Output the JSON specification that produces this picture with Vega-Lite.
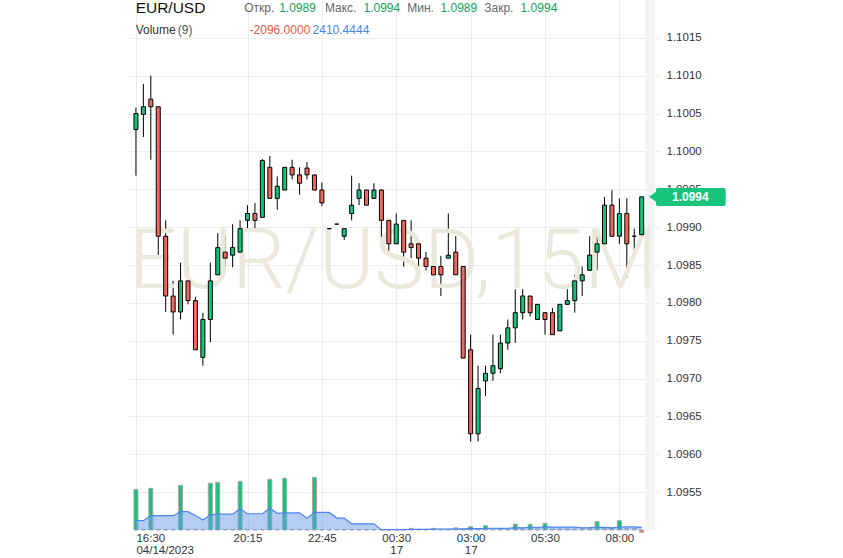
{
  "$schema": "https://vega.github.io/schema/vega-lite/v6.json",
  "width": 532,
  "height": 530,
  "autosize": "none",
  "padding": {"left": 128, "top": 0, "right": 183, "bottom": 28},
  "background": "white",
  "config": {"view": {"stroke": null}, "text": {"font": "Liberation Sans"}},
  "datasets": {
    "candles": [
      {"i":0,"t":"16:30","o":1.10029,"h":1.10058,"l":1.09968,"c":1.10050,"v":36600,"ma":8400},
      {"i":1,"t":"16:45","o":1.10049,"h":1.10089,"l":1.10019,"c":1.10059,"v":500,"ma":8400},
      {"i":2,"t":"17:00","o":1.10069,"h":1.10100,"l":1.09989,"c":1.10059,"v":37500,"ma":12900},
      {"i":3,"t":"17:15","o":1.10059,"h":1.10059,"l":1.09859,"c":1.09888,"v":500,"ma":12900},
      {"i":4,"t":"17:30","o":1.09888,"h":1.09909,"l":1.09788,"c":1.09809,"v":500,"ma":12900},
      {"i":5,"t":"17:45","o":1.09809,"h":1.09829,"l":1.09758,"c":1.09788,"v":500,"ma":12900},
      {"i":6,"t":"18:00","o":1.09788,"h":1.09853,"l":1.09778,"c":1.09829,"v":40200,"ma":16500},
      {"i":7,"t":"18:15","o":1.09829,"h":1.09847,"l":1.09798,"c":1.09803,"v":500,"ma":16500},
      {"i":8,"t":"18:30","o":1.09803,"h":1.09808,"l":1.09738,"c":1.09738,"v":500,"ma":13033},
      {"i":9,"t":"18:45","o":1.09728,"h":1.09787,"l":1.09717,"c":1.09778,"v":500,"ma":9022},
      {"i":10,"t":"19:00","o":1.09778,"h":1.09853,"l":1.09748,"c":1.09829,"v":42000,"ma":13633},
      {"i":11,"t":"19:15","o":1.09837,"h":1.09892,"l":1.09837,"c":1.09873,"v":42900,"ma":14233},
      {"i":12,"t":"19:30","o":1.09867,"h":1.09888,"l":1.09847,"c":1.09859,"v":500,"ma":14233},
      {"i":13,"t":"19:45","o":1.09863,"h":1.09904,"l":1.09847,"c":1.09873,"v":500,"ma":14233},
      {"i":14,"t":"20:00","o":1.09867,"h":1.09909,"l":1.09867,"c":1.09898,"v":43800,"ma":19044},
      {"i":15,"t":"20:15","o":1.09909,"h":1.09929,"l":1.09898,"c":1.09918,"v":500,"ma":14633},
      {"i":16,"t":"20:30","o":1.09918,"h":1.09932,"l":1.09898,"c":1.09909,"v":500,"ma":14633},
      {"i":17,"t":"20:45","o":1.09913,"h":1.09990,"l":1.09913,"c":1.09988,"v":500,"ma":14633},
      {"i":18,"t":"21:00","o":1.09979,"h":1.09994,"l":1.09938,"c":1.09938,"v":45600,"ma":19644},
      {"i":19,"t":"21:15","o":1.09938,"h":1.09967,"l":1.09923,"c":1.09954,"v":500,"ma":15033},
      {"i":20,"t":"21:30","o":1.09949,"h":1.09979,"l":1.09949,"c":1.09979,"v":46500,"ma":15433},
      {"i":21,"t":"21:45","o":1.09979,"h":1.09989,"l":1.09963,"c":1.09969,"v":500,"ma":15433},
      {"i":22,"t":"22:00","o":1.09969,"h":1.09979,"l":1.09943,"c":1.09958,"v":500,"ma":15433},
      {"i":23,"t":"22:15","o":1.09978,"h":1.09986,"l":1.09963,"c":1.09969,"v":500,"ma":10622},
      {"i":24,"t":"22:30","o":1.09969,"h":1.09969,"l":1.09949,"c":1.09949,"v":47400,"ma":15833},
      {"i":25,"t":"22:45","o":1.09949,"h":1.09959,"l":1.09928,"c":1.09932,"v":300,"ma":15811},
      {"i":26,"t":"23:00","o":1.09898,"h":1.09898,"l":1.09898,"c":1.09898,"v":300,"ma":15789},
      {"i":27,"t":"23:15","o":1.09904,"h":1.09904,"l":1.09904,"c":1.09904,"v":300,"ma":10756},
      {"i":28,"t":"23:30","o":1.09888,"h":1.09898,"l":1.09883,"c":1.09898,"v":300,"ma":10733},
      {"i":29,"t":"23:45","o":1.09918,"h":1.09968,"l":1.09909,"c":1.09929,"v":300,"ma":5600},
      {"i":30,"t":"23:15","o":1.09938,"h":1.09958,"l":1.09929,"c":1.09949,"v":300,"ma":5578},
      {"i":31,"t":"23:30","o":1.09949,"h":1.09949,"l":1.09929,"c":1.09929,"v":300,"ma":5556},
      {"i":32,"t":"23:45","o":1.09938,"h":1.09958,"l":1.09938,"c":1.09949,"v":300,"ma":5533},
      {"i":33,"t":"00:00","o":1.09949,"h":1.09950,"l":1.09878,"c":1.09909,"v":300,"ma":300},
      {"i":34,"t":"00:15","o":1.09909,"h":1.09909,"l":1.09868,"c":1.09878,"v":300,"ma":300},
      {"i":35,"t":"00:30","o":1.09878,"h":1.09918,"l":1.09878,"c":1.09904,"v":600,"ma":333},
      {"i":36,"t":"00:45","o":1.09909,"h":1.09909,"l":1.09848,"c":1.09867,"v":600,"ma":367},
      {"i":37,"t":"01:00","o":1.09878,"h":1.09909,"l":1.09859,"c":1.09873,"v":1500,"ma":500},
      {"i":38,"t":"01:15","o":1.09878,"h":1.09878,"l":1.09837,"c":1.09859,"v":600,"ma":533},
      {"i":39,"t":"01:30","o":1.09859,"h":1.09867,"l":1.09843,"c":1.09848,"v":600,"ma":567},
      {"i":40,"t":"01:45","o":1.09848,"h":1.09862,"l":1.09827,"c":1.09837,"v":1500,"ma":700},
      {"i":41,"t":"02:00","o":1.09848,"h":1.09862,"l":1.09809,"c":1.09837,"v":600,"ma":733},
      {"i":42,"t":"02:15","o":1.09859,"h":1.09918,"l":1.09859,"c":1.09863,"v":600,"ma":767},
      {"i":43,"t":"02:30","o":1.09867,"h":1.09888,"l":1.09837,"c":1.09837,"v":2000,"ma":956},
      {"i":44,"t":"02:45","o":1.09848,"h":1.09848,"l":1.09727,"c":1.09727,"v":800,"ma":978},
      {"i":45,"t":"03:00","o":1.09738,"h":1.09758,"l":1.09617,"c":1.09627,"v":3000,"ma":1244},
      {"i":46,"t":"03:15","o":1.09627,"h":1.09717,"l":1.09617,"c":1.09687,"v":900,"ma":1178},
      {"i":47,"t":"03:30","o":1.09697,"h":1.09717,"l":1.09677,"c":1.09707,"v":3900,"ma":1544},
      {"i":48,"t":"03:45","o":1.09707,"h":1.09758,"l":1.09697,"c":1.09717,"v":1000,"ma":1589},
      {"i":49,"t":"04:00","o":1.09713,"h":1.09758,"l":1.09707,"c":1.09747,"v":1000,"ma":1533},
      {"i":50,"t":"04:15","o":1.09747,"h":1.09778,"l":1.09738,"c":1.09767,"v":1000,"ma":1578},
      {"i":51,"t":"04:30","o":1.09767,"h":1.09818,"l":1.09747,"c":1.09787,"v":5400,"ma":2111},
      {"i":52,"t":"04:45","o":1.09787,"h":1.09818,"l":1.09778,"c":1.09809,"v":1000,"ma":2000},
      {"i":53,"t":"05:00","o":1.09809,"h":1.09809,"l":1.09782,"c":1.09787,"v":5100,"ma":2478},
      {"i":54,"t":"05:15","o":1.09778,"h":1.09798,"l":1.09778,"c":1.09798,"v":1000,"ma":2256},
      {"i":55,"t":"05:30","o":1.09787,"h":1.09787,"l":1.09758,"c":1.09778,"v":6000,"ma":2822},
      {"i":56,"t":"05:45","o":1.09787,"h":1.09793,"l":1.09758,"c":1.09758,"v":1000,"ma":2500},
      {"i":57,"t":"06:00","o":1.09763,"h":1.09798,"l":1.09763,"c":1.09798,"v":1000,"ma":2500},
      {"i":58,"t":"06:15","o":1.09798,"h":1.09818,"l":1.09798,"c":1.09803,"v":1000,"ma":2500},
      {"i":59,"t":"06:30","o":1.09803,"h":1.09837,"l":1.09787,"c":1.09829,"v":1000,"ma":2500},
      {"i":60,"t":"06:45","o":1.09829,"h":1.09848,"l":1.09809,"c":1.09837,"v":1300,"ma":2044},
      {"i":61,"t":"07:00","o":1.09843,"h":1.09888,"l":1.09843,"c":1.09863,"v":1300,"ma":2078},
      {"i":62,"t":"07:15","o":1.09867,"h":1.09888,"l":1.09843,"c":1.09878,"v":7500,"ma":2344},
      {"i":63,"t":"07:30","o":1.09878,"h":1.09940,"l":1.09868,"c":1.09929,"v":1500,"ma":2400},
      {"i":64,"t":"07:45","o":1.09929,"h":1.09949,"l":1.09888,"c":1.09888,"v":1500,"ma":1900},
      {"i":65,"t":"08:00","o":1.09888,"h":1.09938,"l":1.09878,"c":1.09918,"v":8400,"ma":2722},
      {"i":66,"t":"08:15","o":1.09918,"h":1.09938,"l":1.09833,"c":1.09878,"v":1300,"ma":2756},
      {"i":67,"t":"08:30","o":1.09888,"h":1.09898,"l":1.09859,"c":1.09888,"v":1300,"ma":2789},
      {"i":68,"t":"08:45","o":1.0989,"h":1.0994,"l":1.0989,"c":1.0994,"v":-2096,"ma":2410.4444}
    ]
  },
  "layer": [
    {
      "data": {"name": "candles"},
      "layer": [
        {
          "mark": {"type": "bar", "width": 4, "stroke": "#a8a8a8", "strokeWidth": 1},
          "encoding": {
            "x": {"field": "i", "type": "quantitative", "scale": {"domain": [-0.396, 69.79], "nice": false, "zero": false},
              "axis": {"values": [0, 15, 25, 35, 45, 55, 65], "labelExpr": "datum.value == 0 ? ['16:30', '04/14/2023'] : datum.value == 15 ? '20:15' : datum.value == 25 ? '22:45' : datum.value == 35 ? ['00:30', '17'] : datum.value == 45 ? ['03:00', '17'] : datum.value == 55 ? '05:30' : '08:00'", "labelAlign": {"condition": {"test": "datum.value == 0", "value": "left"}, "value": "center"}, "title": null, "grid": true, "gridColor": "#ededed", "domain": false, "ticks": false, "labelFont": "Liberation Sans", "labelFontSize": 11.5, "labelColor": "#333333", "labelLineHeight": 12, "labelPadding": 2, "labelBaseline": "top"}},
            "y": {"field": "v", "type": "quantitative", "scale": {"domain": [0, 477000], "nice": false}, "axis": null},
            "color": {
              "condition": [
                {"test": "datum.v < 0", "value": "#f4675a"},
                {"test": "datum.v >= 2900", "value": "#13c37a"}
              ],
              "value": "#d4d4d4"
            }
          }
        },
        {
          "mark": {"type": "area", "color": "#6b9bec", "fillOpacity": 0.5, "line": {"color": "#4d86ea", "strokeWidth": 1.2}},
          "encoding": {
            "x": {"field": "i", "type": "quantitative", "scale": {"domain": [-0.396, 69.79], "nice": false, "zero": false},
              "axis": {"values": [0, 15, 25, 35, 45, 55, 65], "labelExpr": "datum.value == 0 ? ['16:30', '04/14/2023'] : datum.value == 15 ? '20:15' : datum.value == 25 ? '22:45' : datum.value == 35 ? ['00:30', '17'] : datum.value == 45 ? ['03:00', '17'] : datum.value == 55 ? '05:30' : '08:00'", "labelAlign": {"condition": {"test": "datum.value == 0", "value": "left"}, "value": "center"}, "title": null, "grid": true, "gridColor": "#ededed", "domain": false, "ticks": false, "labelFont": "Liberation Sans", "labelFontSize": 11.5, "labelColor": "#333333", "labelLineHeight": 12, "labelPadding": 2, "labelBaseline": "top"}},
            "y": {"field": "ma", "type": "quantitative", "scale": {"domain": [0, 477000], "nice": false}, "axis": null}
          }
        }
      ]
    },
    {
      "layer": [
        {
          "data": {"name": "candles"},
          "mark": {"type": "rule", "color": "#000000", "strokeWidth": 1},
          "encoding": {
            "x": {"field": "i", "type": "quantitative", "scale": {"domain": [-0.396, 69.79], "nice": false, "zero": false},
              "axis": {"values": [0, 15, 25, 35, 45, 55, 65], "labelExpr": "datum.value == 0 ? ['16:30', '04/14/2023'] : datum.value == 15 ? '20:15' : datum.value == 25 ? '22:45' : datum.value == 35 ? ['00:30', '17'] : datum.value == 45 ? ['03:00', '17'] : datum.value == 55 ? '05:30' : '08:00'", "labelAlign": {"condition": {"test": "datum.value == 0", "value": "left"}, "value": "center"}, "title": null, "grid": true, "gridColor": "#ededed", "domain": false, "ticks": false, "labelFont": "Liberation Sans", "labelFontSize": 11.5, "labelColor": "#333333", "labelLineHeight": 12, "labelPadding": 2, "labelBaseline": "top"}},
            "y": {"field": "l", "type": "quantitative", "scale": {"domain": [1.095, 1.102], "nice": false, "zero": false},
              "axis": {"orient": "right", "values": [1.0955, 1.096, 1.0965, 1.097, 1.0975, 1.098, 1.0985, 1.099, 1.0995, 1.1, 1.1005, 1.101, 1.1015], "format": ".4f", "title": null, "grid": true, "gridColor": "#ededed", "domain": false, "ticks": false, "labelFont": "Liberation Sans", "labelFontSize": 11.5, "labelColor": "#333333", "labelPadding": 6}},
            "y2": {"field": "h"}
          }
        },
        {
          "data": {"values": [{}]},
          "mark": {"type": "rect", "color": "#f3f3f3"},
          "encoding": {
            "x": {"datum": 68.5, "type": "quantitative", "scale": {"domain": [-0.396, 69.79], "nice": false, "zero": false},
              "axis": {"values": [0, 15, 25, 35, 45, 55, 65], "labelExpr": "datum.value == 0 ? ['16:30', '04/14/2023'] : datum.value == 15 ? '20:15' : datum.value == 25 ? '22:45' : datum.value == 35 ? ['00:30', '17'] : datum.value == 45 ? ['03:00', '17'] : datum.value == 55 ? '05:30' : '08:00'", "labelAlign": {"condition": {"test": "datum.value == 0", "value": "left"}, "value": "center"}, "title": null, "grid": true, "gridColor": "#ededed", "domain": false, "ticks": false, "labelFont": "Liberation Sans", "labelFontSize": 11.5, "labelColor": "#333333", "labelLineHeight": 12, "labelPadding": 2, "labelBaseline": "top"}},
            "x2": {"datum": 69.79}
          }
        },
        {
          "data": {"values": [{}]},
          "mark": {"type": "text", "text": "EUR/USD,15M", "font": "Roboto", "fontWeight": 300, "fontSize": 84, "align": "center", "baseline": "alphabetic", "color": "#ebe8dc"},
          "encoding": {
            "x": {"datum": 34.56, "type": "quantitative", "scale": {"domain": [-0.396, 69.79], "nice": false, "zero": false},
              "axis": {"values": [0, 15, 25, 35, 45, 55, 65], "labelExpr": "datum.value == 0 ? ['16:30', '04/14/2023'] : datum.value == 15 ? '20:15' : datum.value == 25 ? '22:45' : datum.value == 35 ? ['00:30', '17'] : datum.value == 45 ? ['03:00', '17'] : datum.value == 55 ? '05:30' : '08:00'", "labelAlign": {"condition": {"test": "datum.value == 0", "value": "left"}, "value": "center"}, "title": null, "grid": true, "gridColor": "#ededed", "domain": false, "ticks": false, "labelFont": "Liberation Sans", "labelFontSize": 11.5, "labelColor": "#333333", "labelLineHeight": 12, "labelPadding": 2, "labelBaseline": "top"}},
            "y": {"datum": 1.098196, "type": "quantitative", "scale": {"domain": [1.095, 1.102], "nice": false, "zero": false},
              "axis": {"orient": "right", "values": [1.0955, 1.096, 1.0965, 1.097, 1.0975, 1.098, 1.0985, 1.099, 1.0995, 1.1, 1.1005, 1.101, 1.1015], "format": ".4f", "title": null, "grid": true, "gridColor": "#ededed", "domain": false, "ticks": false, "labelFont": "Liberation Sans", "labelFontSize": 11.5, "labelColor": "#333333", "labelPadding": 6}}
          }
        },
        {
          "data": {"name": "candles"},
          "mark": {"type": "bar", "width": 4, "stroke": "#000000", "strokeWidth": 1},
          "encoding": {
            "x": {"field": "i", "type": "quantitative", "scale": {"domain": [-0.396, 69.79], "nice": false, "zero": false},
              "axis": {"values": [0, 15, 25, 35, 45, 55, 65], "labelExpr": "datum.value == 0 ? ['16:30', '04/14/2023'] : datum.value == 15 ? '20:15' : datum.value == 25 ? '22:45' : datum.value == 35 ? ['00:30', '17'] : datum.value == 45 ? ['03:00', '17'] : datum.value == 55 ? '05:30' : '08:00'", "labelAlign": {"condition": {"test": "datum.value == 0", "value": "left"}, "value": "center"}, "title": null, "grid": true, "gridColor": "#ededed", "domain": false, "ticks": false, "labelFont": "Liberation Sans", "labelFontSize": 11.5, "labelColor": "#333333", "labelLineHeight": 12, "labelPadding": 2, "labelBaseline": "top"}},
            "y": {"field": "o", "type": "quantitative", "scale": {"domain": [1.095, 1.102], "nice": false, "zero": false},
              "axis": {"orient": "right", "values": [1.0955, 1.096, 1.0965, 1.097, 1.0975, 1.098, 1.0985, 1.099, 1.0995, 1.1, 1.1005, 1.101, 1.1015], "format": ".4f", "title": null, "grid": true, "gridColor": "#ededed", "domain": false, "ticks": false, "labelFont": "Liberation Sans", "labelFontSize": 11.5, "labelColor": "#333333", "labelPadding": 6}},
            "y2": {"field": "c"},
            "color": {"condition": {"test": "datum.c >= datum.o", "value": "#13c37a"}, "value": "#f4675a"}
          }
        },
        {
          "data": {"values": [
            {"txt": "EUR/USD", "k": "title", "px": -0.04, "py": 1.101894},
            {"txt": "Откр.", "k": "label", "px": 14.56, "py": 1.101894},
            {"txt": "1.0989", "k": "value", "px": 19.26, "py": 1.101894},
            {"txt": "Макс.", "k": "label", "px": 25.41, "py": 1.101894},
            {"txt": "1.0994", "k": "value", "px": 30.59, "py": 1.101894},
            {"txt": "Мин.", "k": "label", "px": 36.48, "py": 1.101894},
            {"txt": "1.0989", "k": "value", "px": 40.95, "py": 1.101894},
            {"txt": "Закр.", "k": "label", "px": 46.83, "py": 1.101894},
            {"txt": "1.0994", "k": "value", "px": 51.72, "py": 1.101894},
            {"txt": "Volume", "k": "name", "px": -0.04, "py": 1.101604},
            {"txt": "(9)", "k": "param", "px": 5.62, "py": 1.101604},
            {"txt": "-2096.0000", "k": "neg", "px": 15.28, "py": 1.101604},
            {"txt": "2410.4444", "k": "ma", "px": 23.75, "py": 1.101604}
          ]},
          "mark": {"type": "text", "align": "left", "baseline": "middle"},
          "encoding": {
            "x": {"field": "px", "type": "quantitative", "scale": {"domain": [-0.396, 69.79], "nice": false, "zero": false},
              "axis": {"values": [0, 15, 25, 35, 45, 55, 65], "labelExpr": "datum.value == 0 ? ['16:30', '04/14/2023'] : datum.value == 15 ? '20:15' : datum.value == 25 ? '22:45' : datum.value == 35 ? ['00:30', '17'] : datum.value == 45 ? ['03:00', '17'] : datum.value == 55 ? '05:30' : '08:00'", "labelAlign": {"condition": {"test": "datum.value == 0", "value": "left"}, "value": "center"}, "title": null, "grid": true, "gridColor": "#ededed", "domain": false, "ticks": false, "labelFont": "Liberation Sans", "labelFontSize": 11.5, "labelColor": "#333333", "labelLineHeight": 12, "labelPadding": 2, "labelBaseline": "top"}},
            "y": {"field": "py", "type": "quantitative", "scale": {"domain": [1.095, 1.102], "nice": false, "zero": false},
              "axis": {"orient": "right", "values": [1.0955, 1.096, 1.0965, 1.097, 1.0975, 1.098, 1.0985, 1.099, 1.0995, 1.1, 1.1005, 1.101, 1.1015], "format": ".4f", "title": null, "grid": true, "gridColor": "#ededed", "domain": false, "ticks": false, "labelFont": "Liberation Sans", "labelFontSize": 11.5, "labelColor": "#333333", "labelPadding": 6}},
            "text": {"field": "txt"},
            "color": {"field": "k", "type": "nominal", "scale": {"domain": ["title", "label", "value", "name", "param", "neg", "ma"], "range": ["#111111", "#666666", "#14a25c", "#333333", "#555555", "#e5574a", "#4a86e8"]}, "legend": null},
            "size": {"condition": {"test": "datum.k == 'title'", "value": 15.5}, "value": 12},
            "fontWeight": {"condition": {"test": "datum.k == 'title'", "value": "bold"}, "value": "normal"},
            "fontStyle": {"condition": {"test": "datum.k == 'param'", "value": "italic"}, "value": "normal"}
          }
        },
        {
          "data": {"values": [{}]},
          "mark": {"type": "point", "shape": "M1,-1L-0.4,0L1,1Z", "filled": true, "opacity": 1, "color": "#16c47c", "size": 324},
          "encoding": {
            "x": {"datum": 69.47, "type": "quantitative", "scale": {"domain": [-0.396, 69.79], "nice": false, "zero": false},
              "axis": {"values": [0, 15, 25, 35, 45, 55, 65], "labelExpr": "datum.value == 0 ? ['16:30', '04/14/2023'] : datum.value == 15 ? '20:15' : datum.value == 25 ? '22:45' : datum.value == 35 ? ['00:30', '17'] : datum.value == 45 ? ['03:00', '17'] : datum.value == 55 ? '05:30' : '08:00'", "labelAlign": {"condition": {"test": "datum.value == 0", "value": "left"}, "value": "center"}, "title": null, "grid": true, "gridColor": "#ededed", "domain": false, "ticks": false, "labelFont": "Liberation Sans", "labelFontSize": 11.5, "labelColor": "#333333", "labelLineHeight": 12, "labelPadding": 2, "labelBaseline": "top"}},
            "y": {"datum": 1.0994, "type": "quantitative", "scale": {"domain": [1.095, 1.102], "nice": false, "zero": false},
              "axis": {"orient": "right", "values": [1.0955, 1.096, 1.0965, 1.097, 1.0975, 1.098, 1.0985, 1.099, 1.0995, 1.1, 1.1005, 1.101, 1.1015], "format": ".4f", "title": null, "grid": true, "gridColor": "#ededed", "domain": false, "ticks": false, "labelFont": "Liberation Sans", "labelFontSize": 11.5, "labelColor": "#333333", "labelPadding": 6}}
          }
        },
        {
          "data": {"values": [{}]},
          "mark": {"type": "rect", "color": "#16c47c", "cornerRadius": 2},
          "encoding": {
            "x": {"datum": 69.92, "type": "quantitative", "scale": {"domain": [-0.396, 69.79], "nice": false, "zero": false},
              "axis": {"values": [0, 15, 25, 35, 45, 55, 65], "labelExpr": "datum.value == 0 ? ['16:30', '04/14/2023'] : datum.value == 15 ? '20:15' : datum.value == 25 ? '22:45' : datum.value == 35 ? ['00:30', '17'] : datum.value == 45 ? ['03:00', '17'] : datum.value == 55 ? '05:30' : '08:00'", "labelAlign": {"condition": {"test": "datum.value == 0", "value": "left"}, "value": "center"}, "title": null, "grid": true, "gridColor": "#ededed", "domain": false, "ticks": false, "labelFont": "Liberation Sans", "labelFontSize": 11.5, "labelColor": "#333333", "labelLineHeight": 12, "labelPadding": 2, "labelBaseline": "top"}},
            "x2": {"datum": 79.29},
            "y": {"datum": 1.099517, "type": "quantitative", "scale": {"domain": [1.095, 1.102], "nice": false, "zero": false},
              "axis": {"orient": "right", "values": [1.0955, 1.096, 1.0965, 1.097, 1.0975, 1.098, 1.0985, 1.099, 1.0995, 1.1, 1.1005, 1.101, 1.1015], "format": ".4f", "title": null, "grid": true, "gridColor": "#ededed", "domain": false, "ticks": false, "labelFont": "Liberation Sans", "labelFontSize": 11.5, "labelColor": "#333333", "labelPadding": 6}},
            "y2": {"datum": 1.099279}
          }
        },
        {
          "data": {"values": [{}]},
          "mark": {"type": "text", "text": "1.0994", "fontSize": 12, "fontWeight": "bold", "align": "center", "baseline": "middle", "color": "#ffffff"},
          "encoding": {
            "x": {"datum": 74.54, "type": "quantitative", "scale": {"domain": [-0.396, 69.79], "nice": false, "zero": false},
              "axis": {"values": [0, 15, 25, 35, 45, 55, 65], "labelExpr": "datum.value == 0 ? ['16:30', '04/14/2023'] : datum.value == 15 ? '20:15' : datum.value == 25 ? '22:45' : datum.value == 35 ? ['00:30', '17'] : datum.value == 45 ? ['03:00', '17'] : datum.value == 55 ? '05:30' : '08:00'", "labelAlign": {"condition": {"test": "datum.value == 0", "value": "left"}, "value": "center"}, "title": null, "grid": true, "gridColor": "#ededed", "domain": false, "ticks": false, "labelFont": "Liberation Sans", "labelFontSize": 11.5, "labelColor": "#333333", "labelLineHeight": 12, "labelPadding": 2, "labelBaseline": "top"}},
            "y": {"datum": 1.0994, "type": "quantitative", "scale": {"domain": [1.095, 1.102], "nice": false, "zero": false},
              "axis": {"orient": "right", "values": [1.0955, 1.096, 1.0965, 1.097, 1.0975, 1.098, 1.0985, 1.099, 1.0995, 1.1, 1.1005, 1.101, 1.1015], "format": ".4f", "title": null, "grid": true, "gridColor": "#ededed", "domain": false, "ticks": false, "labelFont": "Liberation Sans", "labelFontSize": 11.5, "labelColor": "#333333", "labelPadding": 6}}
          }
        }
      ]
    }
  ],
  "resolve": {"scale": {"y": "independent"}, "axis": {"y": "independent"}}
}
